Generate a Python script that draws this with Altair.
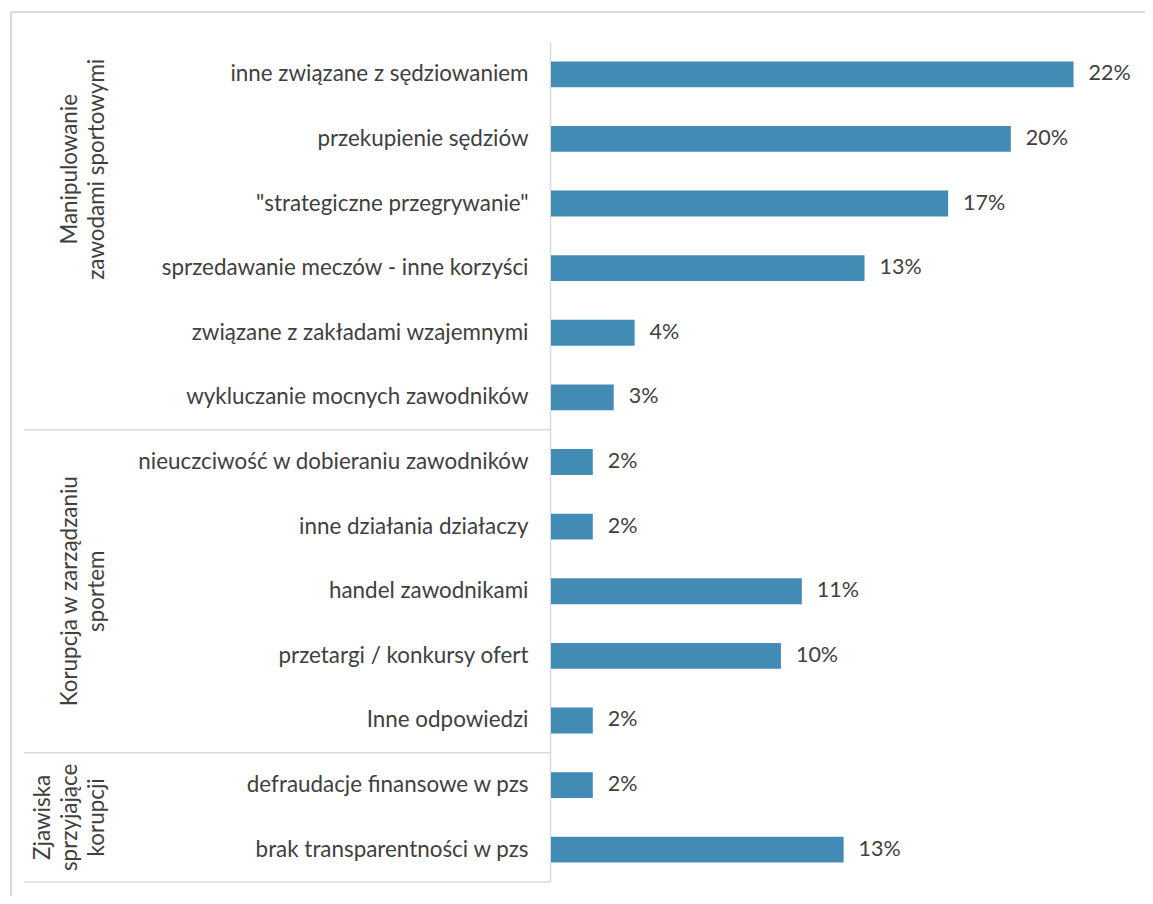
import altair as alt
import pandas as pd

# ---- data ----
kategorie = [
    "inne związane z sędziowaniem",
    "przekupienie sędziów\u2005",
    "\"strategiczne przegrywanie\"",
    "sprzedawanie meczów - inne korzyści",
    "związane z zakładami wzajemnymi",
    "wykluczanie mocnych zawodników",
    "nieuczciwość w dobieraniu zawodników",
    "inne działania działaczy",
    "handel zawodnikami\u2005",
    "przetargi / konkursy ofert",
    "Inne odpowiedzi",
    "defraudacje finansowe w pzs",
    "brak transparentności w pzs",
]
liczba = [25, 22, 19, 15, 4, 3, 2, 2, 12, 11, 2, 2, 14]
procent = ["22%", "20%", "17%", "13%", "4%", "3%", "2%", "2%", "11%", "10%", "2%", "2%", "13%"]

grupy = ["Manipulowanie\nzawodami sportowymi", "Korupcja w zarządzaniu\nsportem", "Zjawiska\nsprzyjające\nkorupcji"]
grupy_wiersz = [1.97, 8.5, 12.0]      # label anchor in row units
granice = [6, 11, 13]                 # group boundaries in row units

df = pd.DataFrame({"kat": kategorie, "n": liczba, "pct": procent})
df_sep = pd.DataFrame({"b": granice})
df_grp = pd.DataFrame({"g": grupy, "pos": grupy_wiersz, "i": [0, 1, 2]})
one = pd.DataFrame({"a": [0]})

W, H = 580, 840
N = len(kategorie)
FONT = "Lato"
FS = 22.4
FSV = 21.5
GRAY = "#404040"
LINE = "#d9d9d9"
BAR = "#428BB5"

y_band = alt.Y(
    "kat:N", sort=kategorie,
    scale=alt.Scale(paddingInner=0.6, paddingOuter=0.3),
    axis=alt.Axis(title=None, ticks=False, grid=False, labelFont=FONT, labelFontSize=FS,
                  labelColor=GRAY, labelPadding=22, labelLimit=600, domainColor=LINE,
                  domainWidth=1.5, offset=1),
)
x_q = alt.X("n:Q", scale=alt.Scale(domain=[0, 27.75], nice=False, zero=True), axis=None)

bars = alt.Chart(df).mark_bar(color=BAR).encode(y=y_band, x=x_q)
vals = alt.Chart(df).mark_text(align="left", baseline="middle", dx=15, font=FONT,
                               fontSize=FSV, color=GRAY).encode(y=y_band, x=x_q, text="pct:N")
main = alt.layer(bars, vals)

row_scale = alt.Scale(domain=[0, N], reverse=True, nice=False, zero=False)

seps = alt.Chart(df_sep).mark_rule(color=LINE, strokeWidth=1.5).encode(
    y=alt.Y("b:Q", scale=row_scale, axis=None),
    x=alt.value(-527), x2=alt.value(-1),
)

def grp_layer(idx, xpos):
    return alt.Chart(df_grp).transform_filter(f"datum.i == {idx}").mark_text(
        angle=270, align="center", baseline="middle", lineBreak="\n", lineHeight=27,
        font=FONT, fontSize=FS, color=GRAY,
    ).encode(y=alt.Y("pos:Q", scale=row_scale, axis=None), x=alt.value(xpos), text="g:N")

g1 = grp_layer(0, -481)
g2 = grp_layer(1, -481)
g3 = grp_layer(2, -508)

frame_top = alt.Chart(one).mark_rule(color=LINE, strokeWidth=2).encode(
    x=alt.value(-540), x2=alt.value(W + 40), y=alt.value(-30))
frame_left = alt.Chart(one).mark_rule(color=LINE, strokeWidth=2).encode(
    x=alt.value(-540), y=alt.value(-30), y2=alt.value(H + 40))

chart = alt.layer(frame_top, frame_left, seps, main, g1, g2, g3).resolve_scale(
    y="independent"
).properties(
    width=W, height=H,
    autosize=alt.AutoSizeParams(type="none"),
    padding={"left": 543, "top": 34, "right": 14, "bottom": 14},
).configure_view(stroke=None)

chart.save("out.html", embed_options={"renderer": "svg", "actions": False})
